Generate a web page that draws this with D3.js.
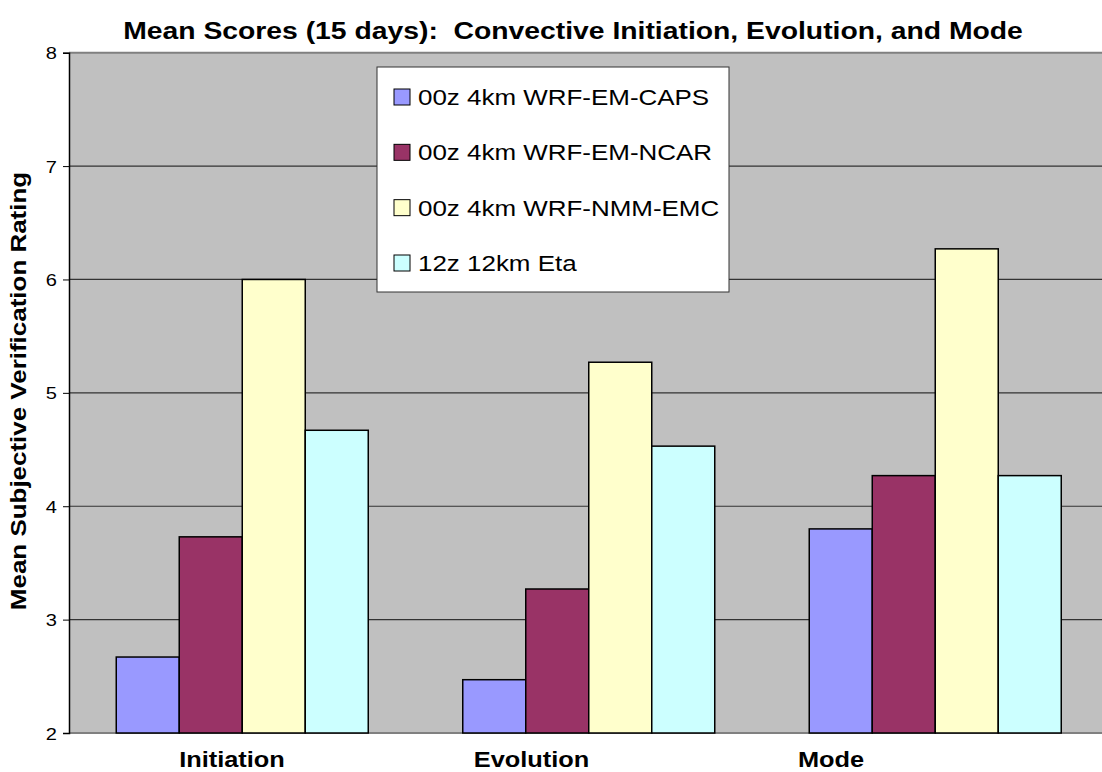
<!DOCTYPE html>
<html>
<head>
<meta charset="utf-8">
<script src="https://cdn.jsdelivr.net/npm/d3@7"></script>
<style>
  body { margin: 0; background: #fff; }
  text { font-family: "Liberation Sans", Arial, sans-serif; fill: #000; }
</style>
</head>
<body>
<svg id="chart" width="1102" height="772"></svg>
<script>
var categories = ["Initiation", "Evolution", "Mode"];
var seriesNames = ["00z 4km WRF-EM-CAPS", "00z 4km WRF-EM-NCAR", "00z 4km WRF-NMM-EMC", "12z 12km Eta"];
var capsScores = [2.67, 2.47, 3.80];
var ncarScores = [3.73, 3.27, 4.27];
var nmmScores = [6.00, 5.27, 6.27];
var etaScores = [4.67, 4.53, 4.27];
var yTicks = [2, 3, 4, 5, 6, 7, 8];
var colors = ["#9999FF", "#993366", "#FFFFCC", "#CCFFFF"];

var series = [capsScores, ncarScores, nmmScores, etaScores];
var stretch = 1.18;   // the original picture is stretched sideways

var plot = { left: 69, right: 1108.5, top: 52.7, bottom: 733 };

var svg = d3.select("#chart");

var x0 = d3.scaleBand()
    .domain(categories)
    .range([plot.left, plot.right])
    .paddingInner(94.5 / 346.5)
    .paddingOuter(94.5 / 346.5 / 2);

var x1 = d3.scaleBand()
    .domain(d3.range(seriesNames.length))
    .range([0, x0.bandwidth()]);

var y = d3.scaleLinear()
    .domain([2, 8])
    .range([plot.bottom, plot.top]);

// plot background
svg.append("rect")
    .attr("x", plot.left)
    .attr("y", plot.top)
    .attr("width", plot.right - plot.left)
    .attr("height", plot.bottom - plot.top)
    .attr("fill", "#C0C0C0");

// gridlines
svg.append("g")
    .selectAll("line")
    .data(yTicks.slice(1, -1))
    .enter().append("line")
    .attr("x1", plot.left)
    .attr("x2", plot.right)
    .attr("y1", function (d) { return y(d); })
    .attr("y2", function (d) { return y(d); })
    .attr("stroke", "#333")
    .attr("stroke-width", 1.2);

// top and bottom border
svg.append("line")
    .attr("x1", plot.left).attr("x2", plot.right)
    .attr("y1", y(8)).attr("y2", y(8))
    .attr("stroke", "#808080").attr("stroke-width", 2);
svg.append("line")
    .attr("x1", plot.left).attr("x2", plot.right)
    .attr("y1", y(2)).attr("y2", y(2))
    .attr("stroke", "#808080").attr("stroke-width", 2);

// bars
var rows = categories.map(function (c, i) {
    return series.map(function (s, j) { return { cat: c, k: j, v: s[i] }; });
});

svg.append("g")
    .selectAll("g")
    .data(rows)
    .enter().append("g")
    .attr("transform", function (d) { return "translate(" + x0(d[0].cat) + ",0)"; })
    .selectAll("rect")
    .data(function (d) { return d; })
    .enter().append("rect")
    .attr("x", function (d) { return x1(d.k); })
    .attr("width", x1.bandwidth())
    .attr("y", function (d) { return y(d.v); })
    .attr("height", function (d) { return y(2) - y(d.v); })
    .attr("fill", function (d) { return colors[d.k]; })
    .attr("stroke", "#000")
    .attr("stroke-width", 1.5);

// y axis
var yAxis = svg.append("g")
    .attr("transform", "translate(" + plot.left + ",0)")
    .call(d3.axisLeft(y).tickValues(yTicks).tickSize(6).tickFormat(d3.format("d")));
yAxis.select(".domain").attr("stroke", "#000").attr("stroke-width", 1.5);
yAxis.selectAll(".tick line").attr("stroke", "#000");
yAxis.selectAll(".tick text").remove();
yAxis.selectAll(".tick").append("text")
    .attr("transform", "translate(-12,6) scale(" + stretch + ",1)")
    .attr("text-anchor", "end")
    .style("font-family", "Liberation Sans, Arial, sans-serif")
    .style("font-size", "17px")
    .text(function (d) { return d; });

// category labels
var xLab = d3.scalePoint().domain(categories).range([232, 831]);
svg.append("g")
    .selectAll("text")
    .data(categories)
    .enter().append("text")
    .attr("transform", function (d) { return "translate(" + xLab(d) + ",767) scale(" + stretch + ",1)"; })
    .attr("text-anchor", "middle")
    .style("font-size", "21.5px")
    .style("font-weight", "bold")
    .text(function (d) { return d; });

// title
svg.append("text")
    .attr("transform", "translate(573,39) scale(" + stretch + ",1)")
    .attr("text-anchor", "middle")
    .attr("xml:space", "preserve")
    .style("white-space", "pre")
    .style("font-size", "24px")
    .style("font-weight", "bold")
    .text("Mean Scores (15 days):  Convective Initiation, Evolution, and Mode");

// y title
svg.append("text")
    .attr("transform", "translate(26,391) rotate(-90) scale(" + stretch + ",1)")
    .attr("text-anchor", "middle")
    .style("font-size", "22px")
    .style("font-weight", "bold")
    .text("Mean Subjective Verification Rating");

// legend
var legend = svg.append("g");
legend.append("rect")
    .attr("x", 377).attr("y", 67)
    .attr("width", 352).attr("height", 225)
    .attr("fill", "#fff")
    .attr("stroke", "#333")
    .attr("stroke-width", 1);

var ly = d3.scalePoint().domain(d3.range(seriesNames.length)).range([97, 263]);
var item = legend.selectAll("g.item")
    .data(seriesNames)
    .enter().append("g")
    .attr("class", "item")
    .attr("transform", function (d, i) { return "translate(394," + ly(i) + ")"; });
item.append("rect")
    .attr("x", 0).attr("y", -8)
    .attr("width", 16).attr("height", 16)
    .attr("fill", function (d, i) { return colors[i]; })
    .attr("stroke", "#000")
    .attr("stroke-width", 1);
item.append("text")
    .attr("transform", "translate(24,8) scale(" + stretch + ",1)")
    .style("font-size", "22px")
    .text(function (d) { return d; });
</script>
</body>
</html>
